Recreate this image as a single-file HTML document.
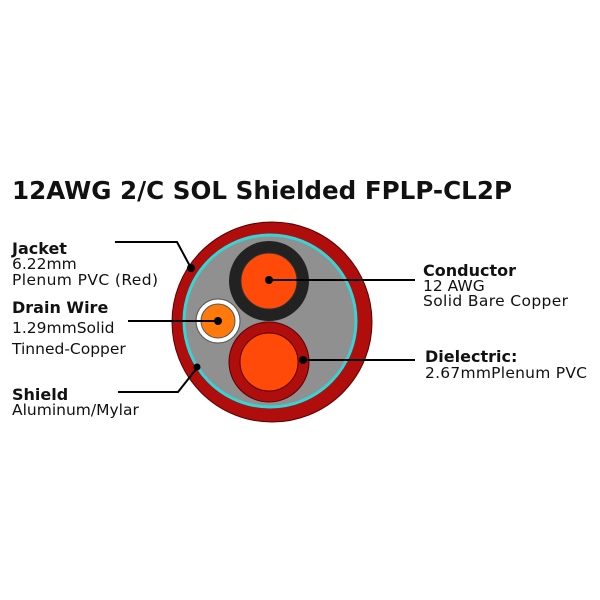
<!DOCTYPE html>
<html><head><meta charset="utf-8"><style>body{margin:0;background:#fff}svg{display:block}</style></head><body>
<svg width="600" height="600" xmlns="http://www.w3.org/2000/svg" font-family="'DejaVu Sans', 'Liberation Sans', sans-serif">
<text x="12" y="199" font-size="25" font-weight="bold" fill="#111" textLength="500" lengthAdjust="spacingAndGlyphs">12AWG 2/C SOL Shielded FPLP-CL2P</text>
<circle cx="272" cy="322" r="100" fill="#b00d0d" stroke="#5a0000" stroke-width="1"/>
<circle cx="270" cy="321" r="86" fill="#909090" stroke="#33d6d6" stroke-width="3"/>
<circle cx="269" cy="281" r="40" fill="#222"/>
<circle cx="269" cy="281" r="28" fill="#ff4a0a" stroke="#333" stroke-width="1"/>
<circle cx="218" cy="321" r="22" fill="#fff" stroke="#555" stroke-width="1"/>
<circle cx="218" cy="321" r="17" fill="#ff7a0a" stroke="#555" stroke-width="1"/>
<circle cx="269" cy="362" r="40" fill="#b00d0d" stroke="#5a0000" stroke-width="1"/>
<circle cx="269" cy="362" r="29" fill="#ff4a0a" stroke="#5a0000" stroke-width="1"/>
<g stroke="#000" stroke-width="2" fill="none">
<polyline points="115,242 177,242 191,268"/>
<line x1="269" y1="280" x2="415" y2="280"/>
<line x1="128" y1="321" x2="218" y2="321"/>
<polyline points="118,392 178,392 197,368"/>
<line x1="303" y1="360" x2="415" y2="360"/>
</g>
<g fill="#000"><circle cx="191" cy="268" r="4"/><circle cx="269" cy="280" r="4"/><circle cx="218" cy="321" r="4"/><circle cx="197" cy="367" r="3.5"/><circle cx="303" cy="360" r="4"/></g>
<g font-size="15.5" fill="#111">
<text x="12" y="254" font-size="16" font-weight="bold">Jacket</text>
<text x="12" y="269">6.22mm</text>
<text x="12" y="285" textLength="146">Plenum PVC (Red)</text>
<text x="12" y="313" font-size="16" font-weight="bold">Drain Wire</text>
<text x="12" y="333">1.29mmSolid</text>
<text x="12" y="354">Tinned-Copper</text>
<text x="12" y="400" font-size="16" font-weight="bold">Shield</text>
<text x="12" y="415">Aluminum/Mylar</text>
<text x="423" y="276" font-size="16" font-weight="bold">Conductor</text>
<text x="423" y="291">12 AWG</text>
<text x="423" y="306" textLength="145">Solid Bare Copper</text>
<text x="425" y="362" font-size="16" font-weight="bold">Dielectric:</text>
<text x="425" y="378" textLength="162">2.67mmPlenum PVC</text>
</g>
</svg>
</body></html>
